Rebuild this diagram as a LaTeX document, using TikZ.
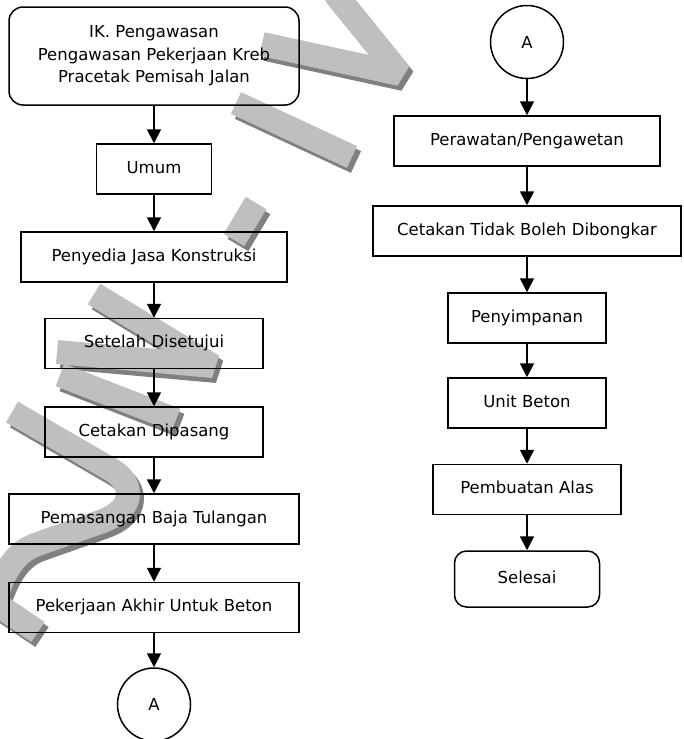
\documentclass[tikz,border=0pt]{standalone}
\usepackage{fontspec}
\setmainfont{DejaVu Sans}
\usetikzlibrary{arrows.meta}

\definecolor{wmlight}{gray}{0.75}
\definecolor{wmdark}{gray}{0.5}
\newcommand{\boxfont}{\fontsize{16.5}{22.5}\selectfont}
\newcommand{\wmband}[1]{\draw[wmshade] #1; \draw[wm] #1;}

\begin{document}
\begin{tikzpicture}[x=1pt, y=-1pt,
    every node/.style={font=\boxfont},
    frame/.style={draw, line width=1.5pt, inner sep=0pt},
    box/.style={frame, minimum height=50pt, text height=12pt, text depth=3.5pt},
    conn/.style={frame, circle, minimum size=73pt},
    arr/.style={line width=1.8pt, -{Triangle[length=14pt,width=14pt]}},
    wm/.style={line width=24pt, draw=wmlight, line join=bevel},
    wmshade/.style={wm, draw=wmdark, shift={(4,5)}}]
    \useasboundingbox (0,0) rectangle (683,739);
    % watermark in the background
    \wmband{(332,-10) -- (400,74) -- (262,44)}
    \wmband{(236,103) -- (352,157)}
    \wmband{(256,203) -- (234,240)}
    \wmband{(94,294) -- (213,366) -- (57,352)}
    \wmband{(60,375) -- (176,420)}
    \wmband{(12,412) -- (112,470) .. controls (135,484) and (135,510) .. (100,522) -- (35,545) .. controls (15,553) and (5,570) .. (-5,598)}
    \wmband{(-5,603) -- (38,632)}
    % left column
    \node[frame, rounded corners=14pt, minimum width=290pt, minimum height=98pt, align=center] (ik) at (154,56) {IK. Pengawasan\\Pengawasan Pekerjaan Kreb\\Pracetak Pemisah Jalan};
    \node[box, minimum width=115pt] (umum)   at (154,169)   {Umum};
    \node[box, minimum width=266pt] (jasa)   at (154,257)   {Penyedia Jasa Konstruksi};
    \node[box, minimum width=218pt] (setuju) at (154,343.5) {Setelah Disetujui};
    \node[box, minimum width=218pt] (pasang) at (154,432)   {Cetakan Dipasang};
    \node[box, minimum width=290pt] (baja)   at (154,519)   {Pemasangan Baja Tulangan};
    \node[box, minimum width=290pt] (akhir)  at (154,607.5) {Pekerjaan Akhir Untuk Beton};
    \node[conn] (a1) at (154,704.5) {A};
    % right column
    \node[conn] (a2) at (527,42) {A};
    \node[box, minimum width=266pt] (rawat)   at (527,141)   {Perawatan/Pengawetan};
    \node[box, minimum width=308pt] (bongkar) at (527,231)   {Cetakan Tidak Boleh Dibongkar};
    \node[box, minimum width=158pt] (simpan)  at (527,318)   {Penyimpanan};
    \node[box, minimum width=158pt] (unit)    at (527,403)   {Unit Beton};
    \node[box, minimum width=188pt] (alas)    at (527,489.5) {Pembuatan Alas};
    \node[box, rounded corners=12pt, minimum width=145pt, minimum height=56pt] (selesai) at (527,579) {Selesai};
    % arrows
    \foreach \a/\b in {ik/umum, umum/jasa, jasa/setuju, setuju/pasang, pasang/baja, baja/akhir, akhir/a1,
                       a2/rawat, rawat/bongkar, bongkar/simpan, simpan/unit, unit/alas, alas/selesai}
        \draw[arr] (\a) -- (\b);
\end{tikzpicture}
\end{document}
